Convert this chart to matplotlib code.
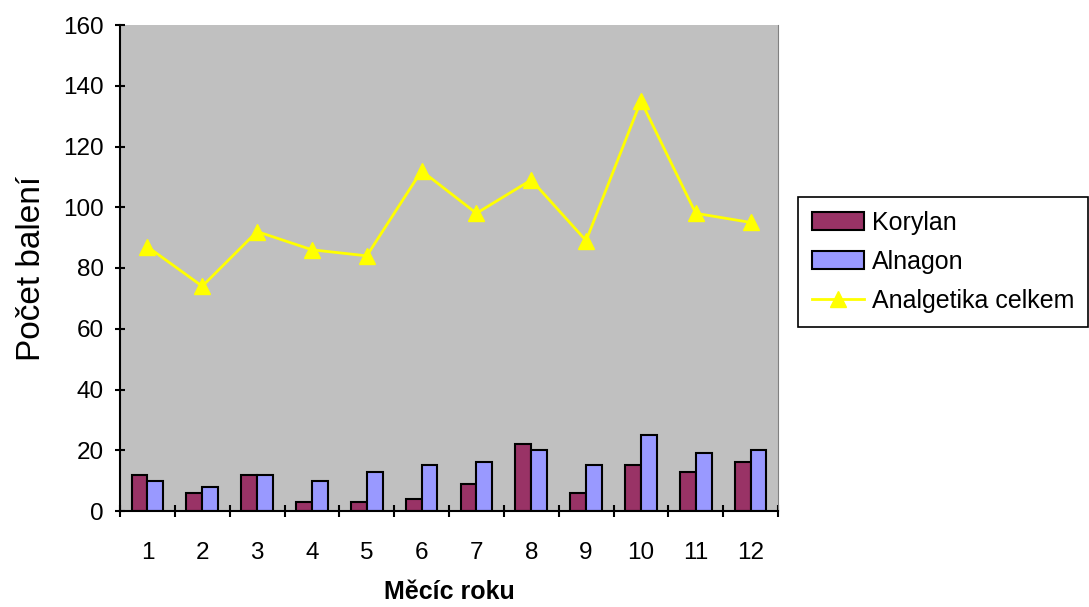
import matplotlib.pyplot as plt
import numpy as np

plt.rcParams['font.family'] = ['Liberation Sans', 'DejaVu Sans']

# --- DATA ---
mesice = [1, 2, 3, 4, 5, 6, 7, 8, 9, 10, 11, 12]
korylan = [12, 6, 12, 3, 3, 4, 9, 22, 6, 15, 13, 16]
alnagon = [10, 8, 12, 10, 13, 15, 16, 20, 15, 25, 19, 20]
celkem = [87, 74, 92, 86, 84, 112, 98, 109, 89, 135, 98, 95]

fig = plt.figure(figsize=(10.89, 6.07), dpi=100)
ax = fig.add_axes([120 / 1089, 1 - 511 / 607, 658 / 1089, 486 / 607])
ax.set_facecolor("#C0C0C0")

x = np.array(mesice)
w = 0.29
b1 = ax.bar(x - w / 2, korylan, w, color="#993366", edgecolor="black", linewidth=1.5, label="Korylan", zorder=2)
b2 = ax.bar(x + w / 2, alnagon, w, color="#9999FF", edgecolor="black", linewidth=1.5, label="Alnagon", zorder=2)
l1, = ax.plot(x, celkem, color="#FFFF00", linewidth=2, marker="^", markersize=12,
              label="Analgetika celkem", zorder=3)

ax.set_xlim(0.5, 12.5)
ax.set_ylim(0, 160)
ax.set_yticks(range(0, 161, 20))
ax.set_xticks(x)
ax.set_xticks(np.arange(0.5, 13, 1), minor=True)
ax.tick_params(axis="x", which="major", length=0, labelsize=17.5, pad=22)
ax.tick_params(axis="x", which="minor", length=9, width=1.5, direction="inout")
ax.tick_params(axis="y", length=7, width=1.5, direction="inout", labelsize=17.5, pad=8)

for s in ["left", "bottom"]:
    ax.spines[s].set_linewidth(1.5)
ax.spines["top"].set_visible(False)
ax.spines["right"].set_color("#808080")

ax.set_ylabel("Počet balení", fontsize=24, labelpad=12)
ax.set_xlabel("Měcíc roku", fontsize=18, fontweight="bold", labelpad=12)

leg = ax.legend(handles=[b1, b2, l1], loc="upper left", bbox_to_anchor=(1.0304, 0.646),
                fontsize=18, frameon=True, fancybox=False, edgecolor="black", framealpha=1,
                handlelength=2.1, handleheight=0.7, handletextpad=0.3, borderpad=0.55,
                labelspacing=0.6, borderaxespad=0)
leg.get_frame().set_linewidth(1.2)

fig.savefig("out.png", dpi=100)
